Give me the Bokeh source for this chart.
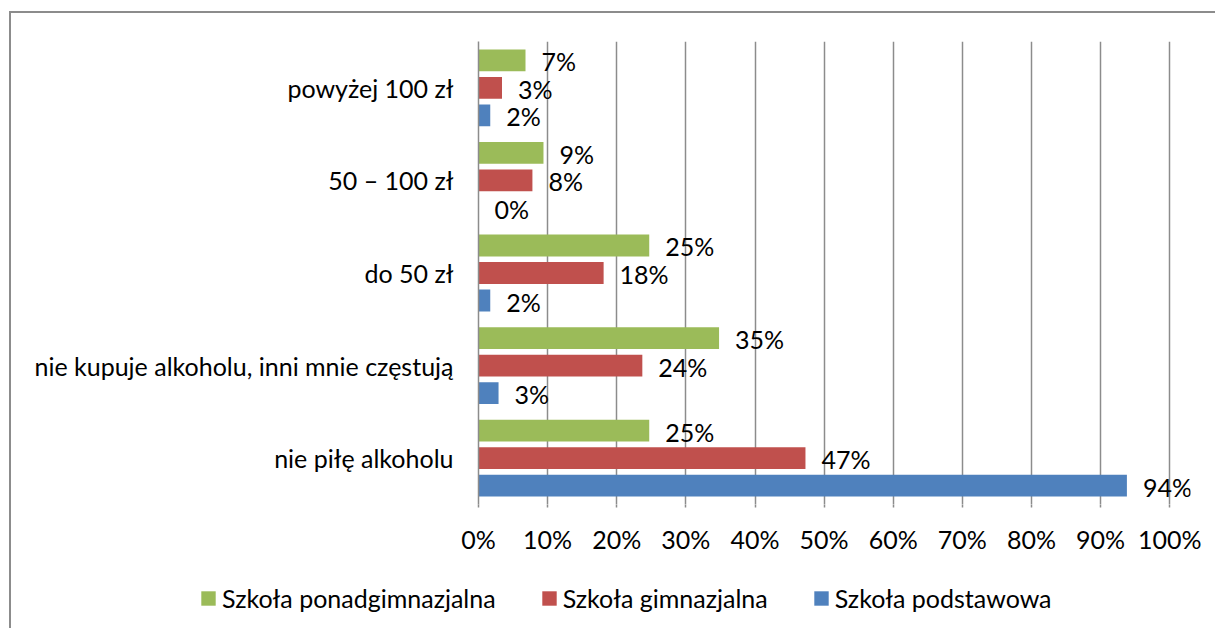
from bokeh.plotting import figure
from bokeh.models import ColumnDataSource, FixedTicker, Legend, LegendItem, FactorRange, Range1d
from bokeh.layouts import column
from bokeh.transform import dodge
from bokeh.core.properties import value
from bokeh.embed import file_html
from bokeh.resources import INLINE

# Data (bottom -> top)
categories = ["nie piłę alkoholu", "nie kupuje alkoholu, inni mnie częstują", "do 50 zł", "50 – 100 zł", "powyżej 100 zł"]
series_names = ["Szkoła ponadgimnazjalna", "Szkoła gimnazjalna", "Szkoła podstawowa"]
ponadgimnazjalna = [24.7, 34.8, 24.7, 9.4, 6.8]
gimnazjalna = [47.3, 23.7, 18.1, 7.8, 3.4]
podstawowa = [93.8, 2.9, 1.7, 0.0, 1.7]
tick_values = [0, 10, 20, 30, 40, 50, 60, 70, 80, 90, 100]
tick_labels = ["0%", "10%", "20%", "30%", "40%", "50%", "60%", "70%", "80%", "90%", "100%"]

colors = ["#9BBB59", "#C0504D", "#4F81BD"]
offsets = [0.297, 0.0, -0.297]
FONT = "Lato"
FS = "25px"

p = figure(width=1204, height=552, output_backend="svg", toolbar_location=None,
           y_range=FactorRange(*categories, range_padding=0), x_range=Range1d(0, 103))
p.min_border_left = 467
p.min_border_right = 25
p.min_border_top = 28
p.min_border_bottom = 61
p.outline_line_color = None
p.background_fill_color = "white"
p.border_fill_color = "white"

for name, vals, col, off in zip(series_names, [ponadgimnazjalna, gimnazjalna, podstawowa], colors, offsets):
    src = ColumnDataSource(dict(cat=categories, val=vals, lab=[f"{round(v)}%" for v in vals]))
    p.hbar(y=dodge("cat", off, range=p.y_range), left=0, right="val", height=0.235,
           source=src, fill_color=col, line_color=None)
    p.text(x="val", y=dodge("cat", off, range=p.y_range), text="lab", source=src,
           x_offset=16, y_offset=1, text_align="left", text_baseline="middle",
           text_font=value(FONT), text_font_size=FS, text_color="black")

# axes
p.xaxis.ticker = FixedTicker(ticks=tick_values)
p.xaxis.major_label_overrides = {v: l for v, l in zip(tick_values, tick_labels)}
p.xaxis.axis_line_color = None
p.xaxis.major_tick_line_color = "#8c8c8c"
p.xaxis.major_tick_line_width = 1.5
p.xaxis.major_tick_out = 3
p.xaxis.major_tick_in = 0
p.xaxis.minor_tick_line_color = None
p.xaxis.major_label_standoff = 16
p.xaxis.major_label_text_font = FONT
p.xaxis.major_label_text_font_size = FS
p.xaxis.major_label_text_color = "black"

p.yaxis.axis_line_color = "#8c8c8c"
p.yaxis.axis_line_width = 1.5
p.yaxis.major_tick_line_color = None
p.yaxis.major_tick_out = 0
p.yaxis.major_tick_in = 0
p.yaxis.minor_tick_line_color = None
p.yaxis.major_label_standoff = 25
p.yaxis.major_label_text_font = FONT
p.yaxis.major_label_text_font_size = FS
p.yaxis.major_label_text_color = "black"

p.xgrid.ticker = FixedTicker(ticks=tick_values)
p.xgrid.grid_line_color = "#8c8c8c"
p.xgrid.grid_line_width = 1.5
p.ygrid.grid_line_color = None

# legend strip
q = figure(width=1204, height=63, output_backend="svg", toolbar_location=None,
           x_range=Range1d(0, 1), y_range=Range1d(0, 1))
q.min_border = 0
q.axis.visible = False
q.grid.visible = False
q.outline_line_color = None
q.border_fill_color = "white"
q.background_fill_color = "white"
for fig in (p, q):
    if "frame_align" in fig.properties():
        fig.frame_align = False
leg_renderers = []
for col in colors:
    leg_renderers.append(q.hbar(y=[-5], left=[0], right=[0], height=1, fill_color=col, line_color=None))
legend = Legend(items=[LegendItem(label=n, renderers=[r]) for n, r in zip(series_names, leg_renderers)],
                orientation="horizontal", location=(188, 15),
                glyph_width=18, glyph_height=18, label_standoff=5, spacing=44,
                padding=0, margin=0, border_line_color=None, background_fill_alpha=0,
                label_text_font=FONT, label_text_font_size=FS, label_text_color="black")
q.add_layout(legend, "center")

layout = column(p, q, spacing=0)
layout.styles = {"border-top": "2px solid #8c8c8c", "border-left": "2px solid #8c8c8c",
                 "margin-top": "11px", "margin-left": "9px"}

open("out.html", "w").write(file_html(layout, INLINE))
